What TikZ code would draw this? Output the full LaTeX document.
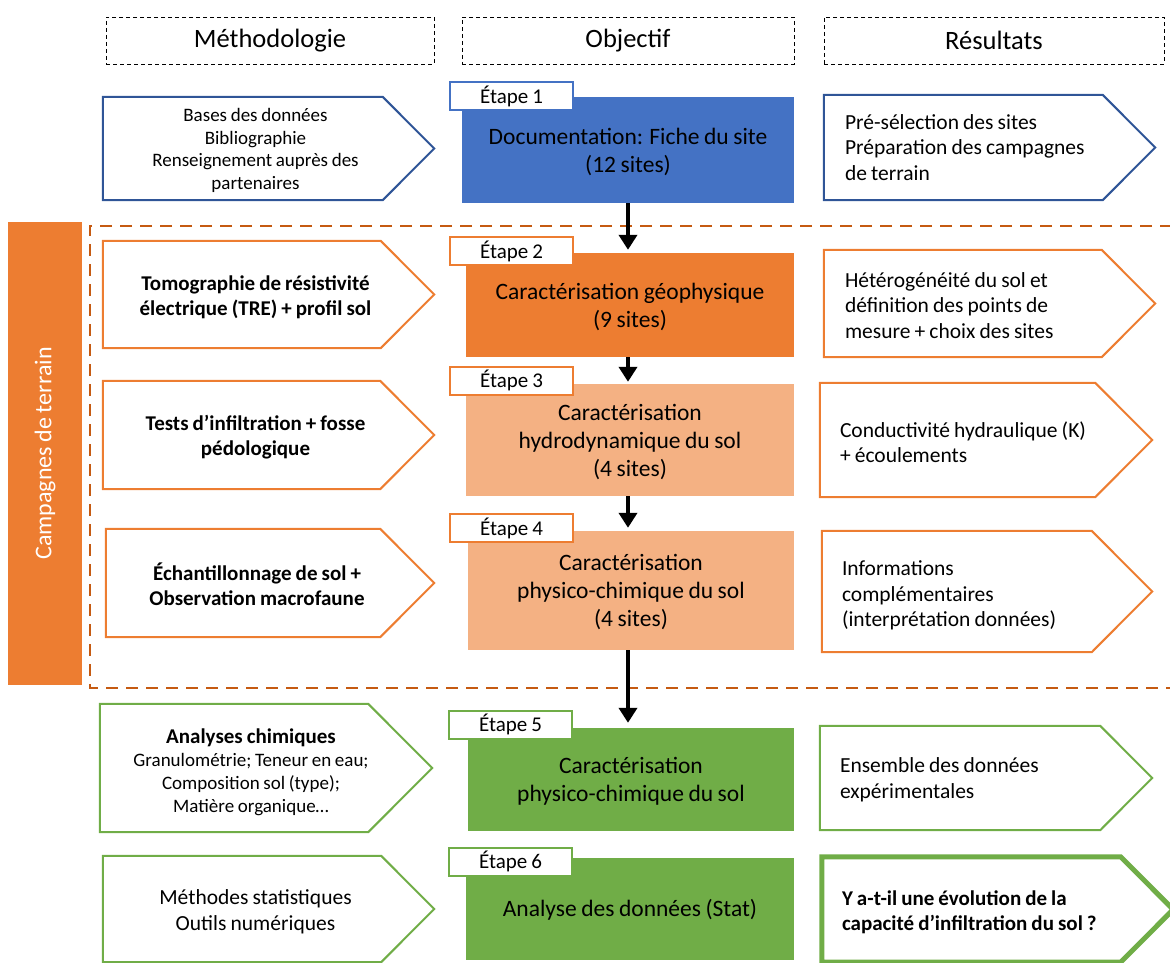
\documentclass[tikz,border=0pt]{standalone}
\usepackage{fontspec}
\setmainfont{Carlito}[WordSpace=0.85]
\usetikzlibrary{arrows.meta}
\definecolor{cblue}{HTML}{4472C4}
\definecolor{cdblue}{HTML}{2F5597}
\definecolor{corange}{HTML}{ED7D31}
\definecolor{clight}{HTML}{F4B183}
\definecolor{cgreen}{HTML}{70AD47}
\definecolor{cdash}{HTML}{C55A11}
\newcommand\plate[3]{\draw[#3] (#1.north west) -- ([xshift=-#2pt]#1.north east) -- (#1.east) -- ([xshift=-#2pt]#1.south east) -- (#1.south west) -- cycle;}
\tikzset{
  hdr/.style={draw, line width=0.9pt, dash pattern=on 4pt off 3pt, minimum height=47, inner sep=0pt, font=\fontsize{26.5}{31}\selectfont},
  shp/.style={inner sep=0pt},
  lft/.style={inner sep=0pt, align=center},
  rgt/.style={inner sep=0pt, align=left, anchor=west},
  objbox/.style={inner sep=0pt},
  obj/.style={inner sep=0pt, align=center, font=\fontsize{23.5}{28}\selectfont},
  etape/.style={draw, fill=white, line width=2pt, minimum width=123, minimum height=28, inner sep=0pt, font=\fontsize{21}{24}\selectfont},
  conn/.style={line width=4.5pt, -{Triangle[width=18pt,length=15pt]}},
  bl/.style={font=\bfseries\fontsize{21}{25}\selectfont},
  rg/.style={font=\fontsize{21.5}{25.5}\selectfont},
  blueline/.style={cdblue, line width=2pt},
  orangeline/.style={corange, line width=2pt},
  greenline/.style={cgreen, line width=2pt}
}
\begin{document}
\begin{tikzpicture}[x=1pt,y=-1pt]
\useasboundingbox (0,0) rectangle (1170,963);
% headers
\node[hdr, minimum width=328] (h1) at (270,40.5) {Méthodologie};
\node[hdr, minimum width=332] (h2) at (628,40.5) {Objectif};
\node[hdr, minimum width=340] (h3) at (994,40.5) {Résultats};
% campaign frame and bar
\draw[cdash, line width=2pt, dash pattern=on 12pt off 8pt] (1172,226) -- (90,226) -- (90,688) -- (1172,688);
\node[fill=corange, minimum width=74, minimum height=463, inner sep=0pt] (bar) at (45,453.5) {};
\node[rotate=90, text=white, font=\fontsize{24}{28}\selectfont] (camp) at (bar.center) {Campagnes de terrain};
% row 1
\node[shp, minimum width=331, minimum height=103] (l1) at (268.5,148.5) {};
\plate{l1}{51.5}{blueline}
\node[lft, font=\fontsize{19}{22.7}\selectfont] (l1t) at ([xshift=-13pt,yshift=-2pt]l1.center) {Bases des données\\Bibliographie\\Renseignement auprès des\\partenaires};
\node[objbox, fill=cblue, minimum width=332, minimum height=106] (o1) at (628,150) {};
\node[obj] (o1t) at ([yshift=-2pt]o1.center) {Documentation: Fiche du site\\(12 sites)};
\node[etape, draw=cblue] (e1) at (511.5,96) {Étape 1};
\node[shp, minimum width=331, minimum height=105] (r1) at (989.5,147.5) {};
\plate{r1}{52.5}{blueline}
\node[rgt, rg] (r1t) at ([xshift=21pt]r1.west) {Pré-sélection des sites\\Préparation des campagnes\\de terrain};
% row 2
\node[shp, minimum width=331, minimum height=107] (l2) at (268.5,294.5) {};
\plate{l2}{53.5}{orangeline}
\node[lft, bl] (l2t) at ([xshift=-13pt,yshift=-3pt]l2.center) {Tomographie de résistivité\\électrique (TRE) + profil sol};
\node[objbox, fill=corange, minimum width=328, minimum height=104] (o2) at (630,305) {};
\node[obj] (o2t) at ([yshift=-2pt]o2.center) {Caractérisation géophysique\\(9 sites)};
\node[etape, draw=corange] (e2) at (511.5,251) {Étape 2};
\node[shp, minimum width=331, minimum height=107] (r2) at (989.5,303.5) {};
\plate{r2}{53.5}{orangeline}
\node[rgt, rg] (r2t) at ([xshift=21pt,yshift=-2pt]r2.west) {Hétérogénéité du sol et\\définition des points de\\mesure + choix des sites};
% row 3
\node[shp, minimum width=331, minimum height=108] (l3) at (268.5,435) {};
\plate{l3}{54}{orangeline}
\node[lft, bl] (l3t) at ([xshift=-13pt,yshift=-2pt]l3.center) {Tests d’infiltration + fosse\\pédologique};
\node[objbox, fill=clight, minimum width=328, minimum height=112] (o3) at (630,440) {};
\node[obj] (o3t) at ([yshift=-2pt]o3.center) {Caractérisation\\hydrodynamique du sol\\(4 sites)};
\node[etape, draw=corange] (e3) at (511.5,380.5) {Étape 3};
\node[shp, minimum width=332, minimum height=114] (r3) at (986,440) {};
\plate{r3}{57}{orangeline}
\node[rgt, rg] (r3t) at ([xshift=20pt,yshift=-2pt]r3.west) {Conductivité hydraulique (K)\\+ écoulements};
% row 4
\node[shp, minimum width=328, minimum height=108] (l4) at (270,583) {};
\plate{l4}{54}{orangeline}
\node[lft, bl] (l4t) at ([xshift=-13pt,yshift=-1pt]l4.center) {Échantillonnage de sol +\\Observation macrofaune};
\node[objbox, fill=clight, minimum width=326, minimum height=119] (o4) at (631,590.5) {};
\node[obj] (o4t) at ([yshift=-1.5pt]o4.center) {Caractérisation\\physico-chimique du sol\\(4 sites)};
\node[etape, draw=corange] (e4) at (511.5,528) {Étape 4};
\node[shp, minimum width=330, minimum height=121] (r4) at (987,591.5) {};
\plate{r4}{60.5}{orangeline}
\node[rgt, rg] (r4t) at ([xshift=20pt,yshift=-4pt]r4.west) {Informations\\complémentaires\\(interprétation données)};
% row 5
\node[shp, minimum width=332, minimum height=128] (l5) at (266,768) {};
\plate{l5}{64}{greenline}
\node[lft, font=\fontsize{19}{23}\selectfont] (l5t) at ([xshift=-15pt,yshift=-4pt]l5.center) {\textbf{\fontsize{21}{23}\selectfont Analyses chimiques}\\Granulométrie; Teneur en eau;\\Composition sol (type);\\Matière organique…};
\node[objbox, fill=cgreen, minimum width=326, minimum height=103] (o5) at (631,779.5) {};
\node[obj] (o5t) at ([yshift=-2pt]o5.center) {Caractérisation\\physico-chimique du sol};
\node[etape, draw=cgreen] (e5) at (510.5,724.5) {Étape 5};
\node[shp, minimum width=332, minimum height=104] (r5) at (986,778) {};
\plate{r5}{52}{greenline}
\node[rgt, rg] (r5t) at ([xshift=20pt,yshift=-2pt]r5.west) {Ensemble des données\\expérimentales};
% row 6
\node[shp, minimum width=331, minimum height=106] (l6) at (268.5,909) {};
\plate{l6}{53}{greenline}
\node[lft, rg] (l6t) at ([xshift=-13pt,yshift=-3pt]l6.center) {Méthodes statistiques\\Outils numériques};
\node[objbox, fill=cgreen, minimum width=328, minimum height=102] (o6) at (630,909) {};
\node[obj] (o6t) at ([yshift=-1pt]o6.center) {Analyse des données (Stat)};
\node[etape, draw=cgreen] (e6) at (510.5,861.5) {Étape 6};
\node[shp, minimum width=351, minimum height=105] (r6) at (997.5,909.5) {};
\plate{r6}{52.5}{cgreen, line width=5pt}
\node[rgt, bl] (r6t) at ([xshift=20pt,yshift=-3pt]r6.west) {Y a-t-il une évolution de la\\capacité d’infiltration du sol ?};
% connectors
\draw[conn, shorten >=3pt] (o1.south) -- (o1.south |- o2.north);
\draw[conn, shorten >=2pt] (o2.south -| o1.south) -- (o1.south |- o3.north);
\draw[conn, shorten >=3pt] (o3.south -| o1.south) -- (o1.south |- o4.north);
\draw[conn, shorten >=5pt] (o4.south -| o1.south) -- (o1.south |- o5.north);
\end{tikzpicture}
\end{document}
